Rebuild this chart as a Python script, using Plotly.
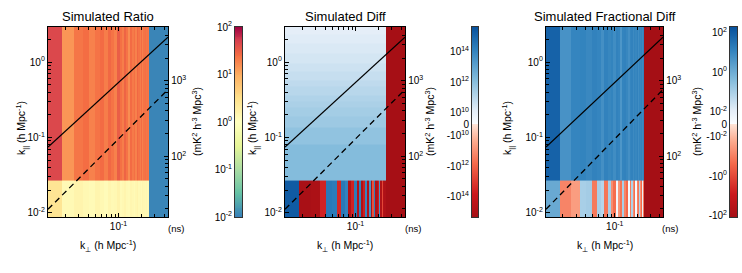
import numpy as np
import plotly.graph_objects as go

# ---------------- data ----------------
# kperp bin edges (h Mpc^-1): 32 columns
kperp_edges = [0.0118, 0.0180, 0.0258, 0.0336, 0.0414, 0.0492, 0.0570, 0.0648,
               0.0726, 0.0804, 0.0882, 0.0960, 0.1038, 0.1116, 0.1194, 0.1272,
               0.1350, 0.1428, 0.1506, 0.1584, 0.1662, 0.1740, 0.1818, 0.1896,
               0.1974, 0.2052, 0.2130, 0.2208, 0.2286, 0.2364, 0.2442, 0.2520,
               0.4600]
# kpar bin edges (h Mpc^-1)
kpar_edges_simple = [0.0088, 0.0265, 2.95]
kpar_edges_diff = [0.0088, 0.0265, 0.0815, 0.1365, 0.1915, 0.2465, 0.3015,
                   0.3565, 0.4665, 0.5765, 0.7415, 0.9615, 1.2915, 1.7315,
                   2.30, 2.95]

# visible axis limits
kperp_view = [0.0118, 0.448]
kpar_view = [0.00885, 2.91]
ns_per_kpar = 1770.0   # delay (ns) per unit kpar

# Simulated Ratio (two kpar rows: lowest bin, all higher bins)
ratio_bottom = [2.6, 1.25, 1.5, 1.3, 1.2, 1.45, 1.3, 1.15, 1.4, 1.25, 1.3, 1.55,
                1.2, 1.3, 1.45, 1.25, 1.2, 1.4, 1.3, 1.2, 1.35, 1.5, 1.25, 1.3,
                1.2, 1.4, 1.3, 1.25, 1.35, 1.2, 1.3, 0.011]
ratio_top = [45, 14, 22, 25, 19, 23, 26, 20, 27, 23, 19, 32, 24, 20, 29, 23,
             16, 26, 21, 24, 19, 27, 23, 20, 26, 19, 23, 24, 22, 23, 22, 0.011]

# Simulated Diff
diff_bottom = [2e15, -1.5e15, -1.2e15, -4e13, 2.5e14, 2e14, -3e13, 2.5e14,
               1.2e14, -8e14, -4e13, 2e14, -6e14, 1.5e14, -9e14, -5e13,
               1e14, -7e14, 4e13, -1e15, -3e12, 1.5e14, -9e14, -6e14,
               -5e13, 3e13, -8e14, -5e12, -7e14, -9e14, -1e15, -2e15]
diff_rows = [1.3e12, 7e11, 4e11, 2.8e11, 2e11, 1.6e11, 1.1e11, 8e10, 5.6e10,
             4e10, 2.8e10, 2.2e10, 1.6e10, 1.25e10]
diff_lastcol = -2e15

# Simulated Fractional Diff
frac_bottom = [1.2, -0.08, -0.03, 0.1, 0.12, -0.12, 0.1, 0.06, -0.15, 0.1,
               -0.06, -0.2, 0.004, -0.04, -0.15, 0.1, -0.08, -0.25, 0.003, -0.12,
               0.08, -0.06, -0.2, 0.002, -0.08, -0.15, 0.08, -0.05, -0.25, 0.01,
               -0.12, -150]
frac_top = [75, 5, 11, 12, 9, 13, 11, 6, 13, 10, 12, 7, 13, 11, 4, 12,
            13, 10, 6, 11, 13, 8, 12, 10, 13, 7, 11, 10, 12, 8, 13, -150]

# horizon wedge lines
line_kperp = [0.0118, 0.448]
horizon_kpar = [0.0748, 2.13]
dashed_kpar = [0.0112, 0.432]

ratio_ticks = [0.01, 0.1, 1, 10, 100]
ratio_ticktext = ["10<sup>-2</sup>", "10<sup>-1</sup>", "10<sup>0</sup>",
                  "10<sup>1</sup>", "10<sup>2</sup>"]
diff_ticks = [1e14, 1e12, 1e10, 0, -1e10, -1e12, -1e14]
diff_ticktext = ["10<sup>14</sup>", "10<sup>12</sup>", "10<sup>10</sup>", "0",
                 "-10<sup>10</sup>", "-10<sup>12</sup>", "-10<sup>14</sup>"]
frac_ticks = [1e2, 1, 1e-2, 0, -1e-2, -1, -1e2]
frac_ticktext = ["10<sup>2</sup>", "10<sup>0</sup>", "10<sup>-2</sup>", "0",
                 "-10<sup>-2</sup>", "-10<sup>0</sup>", "-10<sup>2</sup>"]

titles = ["Simulated Ratio", "Simulated Diff", "Simulated Fractional Diff"]

# ---------------- scales ----------------
CMIN, CMAX = -93.0, 97.0


def symlog(v, thresh, lin_units, per_dec):
    v = np.asarray(v, dtype=float)
    a = np.abs(v)
    m = np.where(a <= thresh, lin_units * a / thresh,
                 lin_units + per_dec * np.log10(np.maximum(a, thresh) / thresh))
    return np.sign(v) * m


def diff_t(v):
    return symlog(v, 1e10, 11.5, 15.25)


def frac_t(v):
    return symlog(v, 1e-2, 12.5, 19.75)


spectral = [[0.0, '#3680b9'], [0.125, '#66c2a5'], [0.25, '#abdda4'],
            [0.375, '#e6f598'], [0.5, '#ffffbf'], [0.625, '#fee08b'],
            [0.75, '#fdae61'], [0.85, '#f46d43'], [0.93, '#d53e4f'],
            [1.0, '#9e0142']]
rdbu = [[0.0, '#a50f15'], [0.12, '#cb181d'], [0.28, '#f4694a'],
        [0.40, '#fcab8f'], [0.487, '#fee3d6'], [0.49, '#fbfdff'],
        [0.56, '#e4eef8'], [0.72, '#84bcdc'], [0.88, '#3182bd'],
        [1.0, '#08519c']]

# ---------------- geometry (page pixels) ----------------
W, H = 742, 273


def px(x):
    return x / W


def py(y):
    return 1 - y / H


Y_TOP, Y_BOT = 27, 217
panels = [dict(x0=48, x1=168, cb0=235, cb1=242, cx=108, yl=22, rl=197, ns=176),
          dict(x0=285, x1=405, cb0=472, cb1=478, cx=345, yl=253, rl=430, ns=413),
          dict(x0=546, x1=663, cb0=730, cb1=737, cx=604.5, yl=508, rl=697, ns=670)]

FONT = "Liberation Sans, Arial, Helvetica, sans-serif"

fig = go.Figure()

# ---------------- heatmaps ----------------
z1 = np.log10(np.array([ratio_bottom, ratio_top]))
fig.add_trace(go.Heatmap(x=kperp_edges, y=kpar_edges_simple, z=z1,
                         zmin=-2, zmax=2, colorscale=spectral, showscale=False,
                         xaxis='x', yaxis='y', hoverinfo='skip'))

ncol = len(kperp_edges) - 1
z2 = [diff_bottom] + [[r] * (ncol - 1) + [diff_lastcol] for r in diff_rows]
fig.add_trace(go.Heatmap(x=kperp_edges, y=kpar_edges_diff, z=diff_t(np.array(z2)),
                         zmin=CMIN, zmax=CMAX, colorscale=rdbu, showscale=False,
                         xaxis='x2', yaxis='y2', hoverinfo='skip'))

z3 = frac_t(np.array([frac_bottom, frac_top]))
fig.add_trace(go.Heatmap(x=kperp_edges, y=kpar_edges_simple, z=z3,
                         zmin=CMIN, zmax=CMAX, colorscale=rdbu, showscale=False,
                         xaxis='x3', yaxis='y3', hoverinfo='skip'))

# ---------------- wedge lines + delay axes ----------------
for i in range(3):
    xa = 'x' if i == 0 else f'x{i+1}'
    ya = 'y' if i == 0 else f'y{i+1}'
    fig.add_trace(go.Scatter(x=line_kperp, y=horizon_kpar, mode='lines',
                             line=dict(color='black', width=1.3),
                             xaxis=xa, yaxis=ya, hoverinfo='skip'))
    fig.add_trace(go.Scatter(x=line_kperp, y=dashed_kpar, mode='lines',
                             line=dict(color='black', width=1.3, dash='6px,4px'),
                             xaxis=xa, yaxis=ya, hoverinfo='skip'))
    fig.add_trace(go.Scatter(x=line_kperp,
                             y=list(np.array(horizon_kpar) * ns_per_kpar),
                             mode='lines', line=dict(color='rgba(0,0,0,0)', width=0),
                             xaxis=xa, yaxis=f'y{4+i}', hoverinfo='skip'))

# ---------------- colorbars as small subplots ----------------
lv = np.linspace(-2, 2, 201)
fig.add_trace(go.Heatmap(x=[0, 1], y=10 ** lv,
                         z=[[c] for c in (lv[:-1] + lv[1:]) / 2],
                         zmin=-2, zmax=2, colorscale=spectral, showscale=False,
                         xaxis='x4', yaxis='y7', hoverinfo='skip'))
tv = np.linspace(CMIN, CMAX, 191)
for j in (1, 2):
    fig.add_trace(go.Heatmap(x=[0, 1], y=tv,
                             z=[[c] for c in (tv[:-1] + tv[1:]) / 2],
                             zmin=CMIN, zmax=CMAX, colorscale=rdbu, showscale=False,
                             xaxis=f'x{4+j}', yaxis=f'y{7+j}', hoverinfo='skip'))

# ---------------- axes ----------------
tickfont = dict(family=FONT, size=10, color='black')
xminor = [0.02, 0.03, 0.04, 0.05, 0.06, 0.07, 0.08, 0.09, 0.2, 0.3, 0.4]
yminor = [0.02, 0.03, 0.04, 0.05, 0.06, 0.07, 0.08, 0.09,
          0.2, 0.3, 0.4, 0.5, 0.6, 0.7, 0.8, 0.9, 2]
rminor = [20, 30, 40, 50, 60, 70, 80, 90, 200, 300, 400, 500, 600, 700, 800,
          900, 2000, 3000, 4000, 5000]

lay = {}
for i, p in enumerate(panels):
    sx = '' if i == 0 else str(i + 1)
    lay[f'xaxis{sx}'] = dict(
        domain=[px(p['x0']), px(p['x1'])], type='log',
        range=[np.log10(kperp_view[0]), np.log10(kperp_view[1])],
        anchor='y' + sx, tickmode='array', tickvals=[0.1],
        ticktext=['10<sup>-1</sup>'], ticks='inside', ticklen=4,
        tickcolor='black', minor=dict(tickmode='array', tickvals=xminor,
                                      ticks='inside', ticklen=2.5,
                                      tickcolor='black'),
        showline=True, linecolor='black', linewidth=1.3, mirror='ticks',
        showgrid=False, zeroline=False, tickfont=tickfont, automargin=False)
    lay[f'yaxis{sx}'] = dict(
        domain=[py(Y_BOT), py(Y_TOP)], type='log',
        range=[np.log10(kpar_view[0]), np.log10(kpar_view[1])],
        anchor='x' + sx, tickmode='array', tickvals=[0.01, 0.1, 1],
        ticktext=['10<sup>-2</sup>', '10<sup>-1</sup>', '10<sup>0</sup>'],
        ticks='inside', ticklen=4, tickcolor='black',
        minor=dict(tickmode='array', tickvals=yminor, ticks='inside',
                   ticklen=2.5, tickcolor='black'),
        showline=True, linecolor='black', linewidth=1.3, mirror=True,
        showgrid=False, zeroline=False, tickfont=tickfont, automargin=False)
    lay[f'yaxis{4+i}'] = dict(
        overlaying='y' + sx, anchor='x' + sx, side='right', type='log',
        range=[np.log10(kpar_view[0] * ns_per_kpar),
               np.log10(kpar_view[1] * ns_per_kpar)],
        tickmode='array', tickvals=[100, 1000],
        ticktext=['10<sup>2</sup>', '10<sup>3</sup>'],
        ticks='inside', ticklen=4, tickcolor='black',
        minor=dict(tickmode='array', tickvals=rminor, ticks='inside',
                   ticklen=2.5, tickcolor='black'),
        showline=True, linecolor='black', linewidth=1.3,
        showgrid=False, zeroline=False, tickfont=tickfont, automargin=False)
    # colorbar subplot axes
    lay[f'xaxis{4+i}'] = dict(
        domain=[px(p['cb0']), px(p['cb1'])], range=[0, 1], anchor=f'y{7+i}',
        showticklabels=False, ticks='', showline=True, linecolor='#333',
        linewidth=1, mirror=True, showgrid=False, zeroline=False,
        automargin=False)
    cby = dict(domain=[py(Y_BOT), py(Y_TOP)], anchor=f'x{4+i}', side='left',
               ticks='', showline=True, linecolor='#333', linewidth=1,
               mirror=True, showgrid=False, zeroline=False, tickfont=tickfont,
               tickmode='array', automargin=False)
    if i == 0:
        cby.update(type='log', range=[-2, 2], tickvals=ratio_ticks,
                   ticktext=ratio_ticktext)
    elif i == 1:
        cby.update(range=[CMIN, CMAX], tickvals=list(diff_t(diff_ticks)),
                   ticktext=diff_ticktext)
    else:
        cby.update(range=[CMIN, CMAX], tickvals=list(frac_t(frac_ticks)),
                   ticktext=frac_ticktext)
    lay[f'yaxis{7+i}'] = cby

# ---------------- text ----------------
ann = []
xt = "k<sub>⊥</sub> (h Mpc<sup>-1</sup>)"
yt = "k<sub>||</sub> (h Mpc<sup>-1</sup>)"
rt = "(mK<sup>2</sup> h<sup>-3</sup> Mpc<sup>3</sup>)"
for i, p in enumerate(panels):
    ann.append(dict(text=titles[i], x=px(p['cx']), y=py(16), xref='paper',
                    yref='paper', showarrow=False, xanchor='center',
                    yanchor='middle', font=dict(family=FONT, size=13, color='black')))
    ann.append(dict(text=xt, x=px(p['cx']), y=py(246), xref='paper',
                    yref='paper', showarrow=False, xanchor='center',
                    yanchor='middle', font=dict(family=FONT, size=10.5, color='black')))
    ann.append(dict(text=yt, x=px(p['yl']), y=py(128), xref='paper',
                    yref='paper', showarrow=False, xanchor='center',
                    yanchor='middle', textangle=-90,
                    font=dict(family=FONT, size=10.5, color='black')))
    ann.append(dict(text=rt, x=px(p['rl']), y=py(122), xref='paper',
                    yref='paper', showarrow=False, xanchor='center',
                    yanchor='middle', textangle=-90,
                    font=dict(family=FONT, size=10.5, color='black')))
    ann.append(dict(text="(ns)", x=px(p['ns']), y=py(228), xref='paper',
                    yref='paper', showarrow=False, xanchor='center',
                    yanchor='middle', font=dict(family=FONT, size=9.5, color='black')))

fig.update_layout(width=W, height=H, margin=dict(l=0, r=0, t=0, b=0),
                  paper_bgcolor='white', plot_bgcolor='white',
                  showlegend=False, annotations=ann,
                  font=dict(family=FONT, size=10, color='black'), **lay)

fig.write_html("out.html", config={'displayModeBar': False},
               post_script="document.body.style.margin='0px';"
                           "document.body.style.overflow='hidden';")
